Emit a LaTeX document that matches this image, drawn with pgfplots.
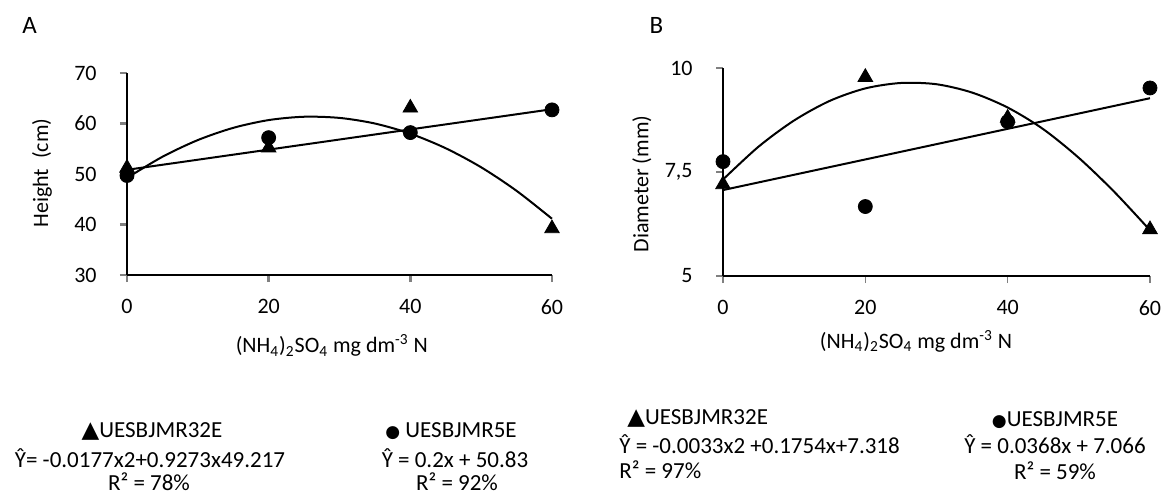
\documentclass[border=0pt]{standalone}
\usepackage{fontspec}
\setmainfont{Carlito}
\newfontfamily\sym{DejaVu Sans}
\usepackage{pgfplots}
\pgfplotsset{compat=1.18}

% shared look of both panels (1px of the reference = 0.5pt)
\pgfplotsset{panel/.style={
    scale only axis, axis lines=left, axis line style={-},
    clip=false, tick align=outside, major tick length=3.5pt,
    xmin=0, xmax=60, xtick={0,20,40,60},
    /pgf/number format/assume math mode=true,
    xticklabel style={anchor=north, inner sep=0pt, yshift=-8.5pt},
    yticklabel style={anchor=east, inner sep=0pt, xshift=-11.5pt},
    xlabel={(NH\textsubscript{4})\textsubscript{2}SO\textsubscript{4} mg dm\textsuperscript{-3} N},
    xlabel style={anchor=center, inner sep=0pt},
    ylabel style={anchor=center, inner sep=0pt},
  },
  dots/.style={only marks, mark=*, mark size=3.5pt, black},
  tris/.style={only marks, mark=triangle*, mark size=4.2pt, black},
  fit/.style={no marks, black, line width=1pt},
}
\newcommand{\tri}{{\sym ▲}}
\newcommand{\blob}{{\sym\fontsize{8.5}{9}\selectfont ●}}

\begin{document}
\fontsize{11}{13}\selectfont
\begin{tikzpicture}
\path[use as bounding box] (0,0) rectangle (581.5pt,247.5pt);

% ---------- A: height ----------
\begin{axis}[panel, at={(63.5pt,110pt)}, anchor=origin,
    width=212.5pt, height=101pt,
    ymin=30, ymax=70, ytick={30,40,50,60,70},
    axis line style={line width=1.3pt}, tick style={line width=1.3pt},
    ylabel={Height\ \ (cm)},
    xlabel style={at={(axis description cs:0.482,-0.35)}},
    ylabel style={at={(axis description cs:-0.2,0.505)}}]
  \addplot[fit, smooth] coordinates {(0,49.22) (5,53.41) (10,56.72) (15,59.14) (20,60.68)
    (25,61.34) (30,61.11) (35,60.00) (40,57.99) (45,55.10) (50,51.33) (55,46.67) (60,41.14)};
  \addplot[fit] coordinates {(0,50.83) (60,62.83)};
  \addplot[tris] coordinates {(0,51.2) (20,55.2) (40,63.1) (60,39.2)};
  \addplot[dots] coordinates {(0,49.7) (20,57.2) (40,58.2) (60,62.7)};
\end{axis}

% ---------- B: diameter ----------
\begin{axis}[panel, at={(361.5pt,109.5pt)}, anchor=origin,
    width=213.5pt, height=104pt,
    ymin=5, ymax=10, ytick={5,7.5,10}, yticklabels={5,{7,5},10},
    axis line style={line width=0.8pt}, tick style={line width=0.8pt},
    ylabel={Diameter (mm)},
    xlabel style={at={(axis description cs:0.452,-0.3125)}},
    ylabel style={at={(axis description cs:-0.19,0.442)}}]
  \addplot[fit, smooth] coordinates {(0,7.32) (5,8.11) (10,8.74) (15,9.21) (20,9.51)
    (25,9.64) (30,9.61) (35,9.41) (40,9.05) (45,8.53) (50,7.84) (55,7.02) (60,6.10)};
  \addplot[fit] coordinates {(0,7.066) (60,9.274)};
  \addplot[tris] coordinates {(0,7.20) (20,9.78) (40,8.80) (60,6.12)};
  \addplot[dots] coordinates {(0,7.75) (20,6.67) (40,8.71) (60,9.52)};
\end{axis}

% panel letters
\node[font=\fontsize{12.5}{14}\selectfont] at (14.75pt,235pt) {A};
\node[font=\fontsize{12.5}{14}\selectfont] at (328.25pt,234.75pt) {B};

% equations under the panels
\begin{scope}[every node/.style={inner sep=0pt, font=\fontsize{11.5}{13}\selectfont}]
  \node[anchor=base] at (76pt,28.8pt) {\tri UESBJMR32E};
  \node[anchor=base] at (75pt,14pt) {Ŷ= -0.0177x2+0.9273x49.217};
  \node[anchor=base] at (74.5pt,2.5pt) {R² = 78\%};
  \node[anchor=base] at (225.5pt,28.8pt) {\blob\ UESBJMR5E};
  \node[anchor=base] at (227.5pt,14pt) {Ŷ = 0.2x + 50.83};
  \node[anchor=base] at (228.5pt,2.5pt) {R² = 92\%};
  \node[anchor=base west] at (313.5pt,35.3pt) {\tri UESBJMR32E};
  \node[anchor=base west] at (309.5pt,20.8pt) {Ŷ = -0.0033x2 +0.1754x+7.318};
  \node[anchor=base west] at (309.5pt,8.3pt) {R² = 97\%};
  \node[anchor=base] at (527.5pt,34.3pt) {\blob UESBJMR5E};
  \node[anchor=base] at (527.5pt,20.8pt) {Ŷ = 0.0368x + 7.066};
  \node[anchor=base] at (527.5pt,7.8pt) {R² = 59\%};
\end{scope}
\end{tikzpicture}
\end{document}
